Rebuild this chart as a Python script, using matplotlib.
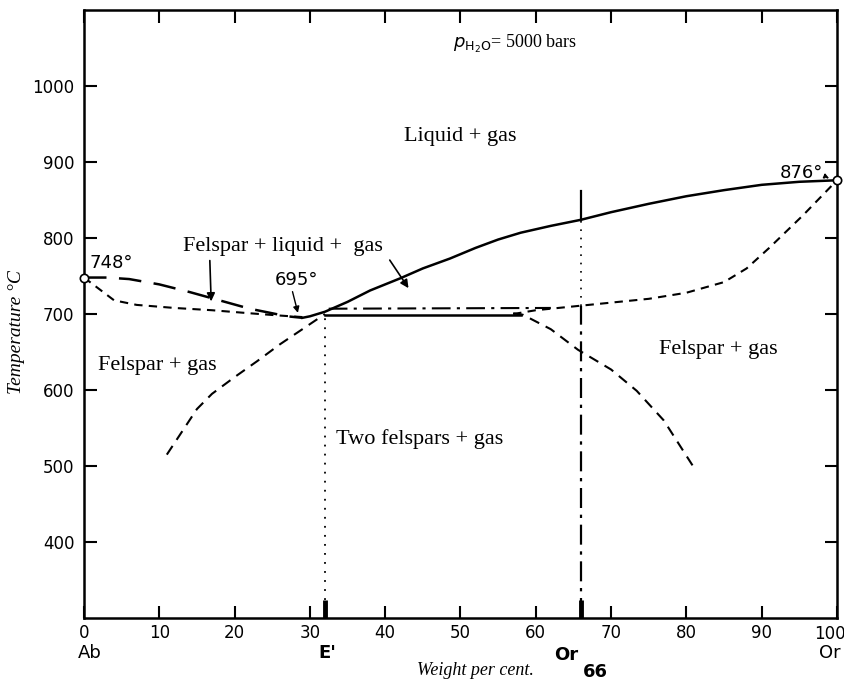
import numpy as np
import matplotlib
matplotlib.use("Agg")
import matplotlib.pyplot as plt

# --- phase boundaries (wt% Or, temperature degC) ---
liq_left_x = [0, 3, 6, 10, 14, 18, 22, 25, 27, 29]
liq_left_t = [748, 748, 746, 739, 729, 718, 707, 701, 697, 695]

liq_right_x = [29, 30, 32, 35, 38, 42, 45, 48.6, 52, 55, 58, 62, 66, 70, 75, 80, 85, 90, 95, 100]
liq_right_t = [695, 697, 703, 716, 731, 747, 760, 773, 787, 798, 807, 816, 824, 834, 845, 855, 863, 870, 874, 876]

sol_left_x = [0, 2, 4, 7, 12, 17, 22, 26, 29]
sol_left_t = [748, 733, 718, 712, 708, 705, 701, 698, 696]

sol_right_x = [57, 60, 63, 66, 70, 75, 80, 85, 88, 91, 95.5, 100]
sol_right_t = [700, 705, 708, 711, 715, 720, 728, 742, 760, 787, 830, 876]

solvus_left_x = [11, 13, 15, 17, 20, 23, 26, 29, 32]
solvus_left_t = [515, 545, 575, 595, 617, 638, 660, 680, 700]

solvus_right_x = [57, 58.3, 62, 65.6, 70, 73.4, 77, 81]
solvus_right_t = [701, 699, 680, 653, 627, 599, 560, 498]

eutectic_x = [32, 58]
eutectic_t = [699, 699]

dashdot_x = [32.5, 62]
dashdot_t = [707, 708]

E_x = 32
Or66_x = 66
liq_at_66 = 824
sol_at_66 = 710
top_66 = 862

end_x = [0, 100]
end_t = [748, 876]

xticks = [0, 10, 20, 30, 40, 50, 60, 70, 80, 90, 100]
xticklabels = ["0", "10", "20", "30", "40", "50", "60", "70", "80", "90", ""]
yticks = [400, 500, 600, 700, 800, 900, 1000]

serif = ["Liberation Serif", "DejaVu Serif"]
sans = ["DejaVu Sans"]

fig = plt.figure(figsize=(8.45, 6.82), dpi=100)
ax = fig.add_axes([0.0994, 0.0938, 0.8911, 0.8915])
ax.set_xlim(0, 100)
ax.set_ylim(300, 1100)

k = dict(color="black", lw=1.8)
ax.plot(liq_left_x, liq_left_t, dashes=(9, 5), **k)
ax.plot(liq_right_x, liq_right_t, **k)
ax.plot(sol_left_x, sol_left_t, dashes=(4, 3), lw=1.5, color="black")
ax.plot(sol_right_x, sol_right_t, dashes=(4, 3), lw=1.5, color="black")
ax.plot(solvus_left_x, solvus_left_t, dashes=(5, 3.5), lw=1.5, color="black")
ax.plot(solvus_right_x, solvus_right_t, dashes=(5, 3.5), lw=1.5, color="black")
ax.plot(eutectic_x, eutectic_t, **k)
ax.plot(dashdot_x, dashdot_t, color="black", lw=1.5, dashes=(9, 3, 1.5, 3))

# verticals at E' and Or66
ax.plot([E_x, E_x], [300, 697], color="black", lw=1.3, dashes=(1, 4))
ax.plot([Or66_x, Or66_x], [liq_at_66, top_66], color="black", lw=1.6)
ax.plot([Or66_x, Or66_x], [sol_at_66, liq_at_66], color="black", lw=1.2, dashes=(1, 4))
ax.plot([Or66_x, Or66_x], [300, sol_at_66], color="black", lw=1.6, dashes=(9, 3, 1.5, 3))
for xv in (E_x, Or66_x):
    ax.plot([xv, xv], [300, 324], color="black", lw=3.5, solid_capstyle="butt")

ax.plot(end_x, end_t, "o", ms=6, mfc="white", mec="black", mew=1.2, clip_on=False, zorder=5)

# axes styling
for s in ax.spines.values():
    s.set_linewidth(1.8)
ax.set_xticks(xticks)
ax.set_xticklabels(xticklabels)
ax.set_yticks(yticks)
ax.tick_params(direction="in", length=9, width=1.5, top=True, right=True, labelsize=12)
ax.tick_params(axis="x", pad=4)
ax.tick_params(axis="y", pad=7)
for lab in ax.get_xticklabels() + ax.get_yticklabels():
    lab.set_family(sans)

ax.set_ylabel("Temperature °C", family=serif, style="italic", fontsize=14)
ax.yaxis.set_label_coords(-0.078, 0.47)

# composition labels under the axis
tr = ax.get_xaxis_transform()
ax.text(99.0, -0.0115, "100", transform=tr, ha="center", va="top", fontsize=12, family=sans)
ax.text(0.8, -0.042, "Ab", transform=tr, ha="center", va="top", fontsize=13, family=sans)
ax.text(99.1, -0.042, "Or", transform=tr, ha="center", va="top", fontsize=13, family=sans)
ax.text(E_x + 0.3, -0.042, "E'", transform=tr, ha="center", va="top", fontsize=13,
        family=sans, weight="bold")
ax.text(Or66_x - 0.3, -0.046, "Or", transform=tr, ha="right", va="top", fontsize=13,
        family=sans, weight="bold")
ax.text(Or66_x + 0.3, -0.074, "66", transform=tr, ha="left", va="top", fontsize=13,
        family=sans, weight="bold")
ax.text(52, -0.072, "Weight per cent.", transform=tr, ha="center", va="top",
        family=serif, style="italic", fontsize=13)

# field labels
ax.text(49.0, 1055, r"$p_{\mathrm{H_2O}}$= 5000 bars", family=serif, fontsize=13,
        ha="left", va="center")
ax.text(50, 933, "Liquid + gas", family=serif, fontsize=16, ha="center", va="center")
ax.text(26.4, 789, "Felspar + liquid +  gas", family=serif, fontsize=16, ha="center",
        va="center")
ax.text(9.8, 632, "Felspar + gas", family=serif, fontsize=16, ha="center", va="center")
ax.text(84.3, 653, "Felspar + gas", family=serif, fontsize=16, ha="center", va="center")
ax.text(44.6, 535, "Two felspars + gas", family=serif, fontsize=16, ha="center",
        va="center")
ax.text(0.7, 767, "748°", family=sans, fontsize=13, ha="left", va="center")
ax.text(28.2, 745, "695°", family=sans, fontsize=13, ha="center", va="center")
ax.text(98.2, 885, "876°", family=sans, fontsize=13, ha="right", va="center")

arr = dict(arrowstyle="-|>", color="black", lw=1.2, mutation_scale=12)
ax.annotate("", xy=(16.9, 713), xytext=(16.7, 774), arrowprops=arr)
ax.annotate("", xy=(43.3, 731), xytext=(40.4, 774), arrowprops=arr)
ax.annotate("", xy=(28.5, 698), xytext=(27.6, 733),
            arrowprops=dict(arrowstyle="-|>", color="black", lw=1.0, mutation_scale=9))
ax.annotate("", xy=(99.3, 877), xytext=(98.2, 882),
            arrowprops=dict(arrowstyle="-|>", color="black", lw=1.0, ls="--",
                            mutation_scale=7))

fig.savefig("out.png", dpi=100)
